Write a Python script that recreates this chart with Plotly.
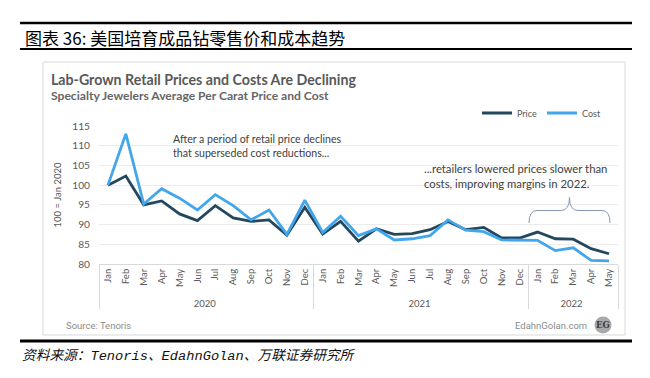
import plotly.graph_objects as go

# ---------------- data ----------------
months = ["Jan", "Feb", "Mar", "Apr", "May", "Jun", "Jul", "Aug", "Sep", "Oct", "Nov", "Dec",
          "Jan", "Feb", "Mar", "Apr", "May", "Jun", "Jul", "Aug", "Sep", "Oct", "Nov", "Dec",
          "Jan", "Feb", "Mar", "Apr", "May"]
years = ["2020"] * 12 + ["2021"] * 12 + ["2022"] * 5
price = [100, 102.3, 95.0, 96.0, 92.7, 91.0, 94.8, 91.7, 90.8, 91.2, 87.3, 94.4,
         87.6, 90.8, 85.8, 88.9, 87.5, 87.7, 88.7, 90.8, 88.7, 89.3, 86.6, 86.6,
         88.1, 86.4, 86.3, 83.9, 82.6]
cost = [100, 113.0, 95.2, 99.1, 96.7, 93.7, 97.6, 94.8, 91.2, 93.7, 87.5, 96.2,
        88.0, 92.1, 87.2, 88.9, 86.1, 86.4, 87.2, 91.2, 88.6, 88.2, 86.1, 86.0,
        86.0, 83.4, 84.1, 80.9, 80.8]
y_ticks = [80, 85, 90, 95, 100, 105, 110, 115]

# ---------------- layout geometry ----------------
# page body has an 8px margin, so the figure is drawn 8px smaller and offset
OFF = 8
W, H = 650 - OFF, 378 - OFF
PL, PT = 99, 126          # plot-area left/top in window pixels
PW, PH = 519, 138         # plot-area size
L, T = PL - OFF, PT - OFF
R, B = W - L - PW, H - T - PH


def px(x):
    return (x - PL) / PW


def py(y):
    return (PT + PH - y) / PH


TXT = "#595959"
FONT = "Lato"

fig = go.Figure()
fig.add_trace(go.Scatter(x=[years, months], y=price, name="Price", mode="lines",
                         line=dict(color="#22475f", width=2.8)))
fig.add_trace(go.Scatter(x=[years, months], y=cost, name="Cost", mode="lines",
                         line=dict(color="#42a6ec", width=2.8)))

shapes = []
# header rules
for yy, w in [(23, 2.5), (49, 2), (341, 3)]:
    shapes.append(dict(type="line", xref="paper", yref="paper", x0=px(20), x1=px(632),
                       y0=py(yy), y1=py(yy), line=dict(color="black", width=w)))
# inner chart frame
shapes.append(dict(type="rect", xref="paper", yref="paper", x0=px(43), x1=px(625),
                   y0=py(335), y1=py(62), line=dict(color="#d9d9d9", width=1)))


def P(x, y):
    return f"{px(x):.5f},{py(y):.5f}"


brace = (f"M {P(529,223)} Q {P(529,210.5)} {P(537,210.5)} L {P(561,210.5)} "
         f"Q {P(569.5,210.5)} {P(569.5,197.5)} Q {P(569.5,210.5)} {P(578,210.5)} "
         f"L {P(602,210.5)} Q {P(610,210.5)} {P(610,223)}")
shapes.append(dict(type="path", xref="paper", yref="paper", path=brace,
                   line=dict(color="#8497b0", width=1)))
# EG logo circle
shapes.append(dict(type="circle", xref="paper", yref="paper", x0=px(594.5), x1=px(611.5),
                   y0=py(333.5), y1=py(316.5), fillcolor="#a9a9a9", line=dict(width=0)))

ann = []


def text(x, y, s, size, color, xanchor="left", family=FONT, **kw):
    ann.append(dict(xref="paper", yref="paper", x=px(x), y=py(y), text=s, showarrow=False,
                    xanchor=xanchor, yanchor="middle", align="left",
                    font=dict(family=family, size=size, color=color, **kw)))


text(23, 37, "图表 36: 美国培育成品钻零售价和成本趋势", 17, "black",
     family="Noto Sans CJK SC")
text(49, 79, "<b>Lab-Grown Retail Prices and Costs Are Declining</b>", 14.2, TXT)
text(49, 96, "<b>Specialty Jewelers Average Per Carat Price and Cost</b>", 12.1, "#666666")
text(171, 146, "After a period of retail price declines<br>that superseded cost reductions...",
     10.6, "#404040")
text(422, 176, "...retailers lowered prices slower than<br>costs, improving margins in 2022.",
     11.3, "#404040")
text(64, 325, "Source: Tenoris", 9.5, "#8c8c8c", family="Roboto")
text(589, 325, "EdahnGolan.com", 9.5, "#8c8c8c", xanchor="right", family="Roboto")
text(603, 325, "<b>EG</b>", 8.5, "#3a3a3a", xanchor="center", family="DejaVu Serif")
text(20, 356, "资料来源：Tenoris、EdahnGolan、万联证券研究所", 13.7, "#111111",
     family="Liberation Mono, Noto Sans CJK SC", style="italic")

fig.update_layout(
    width=W, height=H,
    margin=dict(l=L, r=R, t=T, b=B, autoexpand=False),
    paper_bgcolor="white", plot_bgcolor="white",
    shapes=shapes, annotations=ann,
    showlegend=True,
    legend=dict(orientation="h", x=px(606), xanchor="right", y=py(113), yanchor="middle",
                font=dict(family=FONT, size=9, color=TXT), itemwidth=30,
                bgcolor="rgba(0,0,0,0)", tracegroupgap=0),
    font=dict(family=FONT, color=TXT),
)
fig.update_xaxes(type="multicategory", range=[-0.5, 28.5], tickangle=-90,
                 tickfont=dict(family=FONT, size=9.5, color=TXT),
                 showline=True, linecolor="#d9d9d9", linewidth=1,
                 showdividers=True, dividercolor="#d9d9d9", dividerwidth=1,
                 ticks="", showgrid=False)
fig.update_yaxes(range=[80, 115], tickvals=y_ticks, showgrid=True, gridcolor="#ececec",
                 gridwidth=1, zeroline=False, showline=False, ticklabelstandoff=8,
                 tickfont=dict(family=FONT, size=10.2, color=TXT),
                 title=dict(text="100 = Jan 2020", standoff=8,
                            font=dict(family=FONT, size=9.5, color=TXT)))

fig.write_html("out.html")
